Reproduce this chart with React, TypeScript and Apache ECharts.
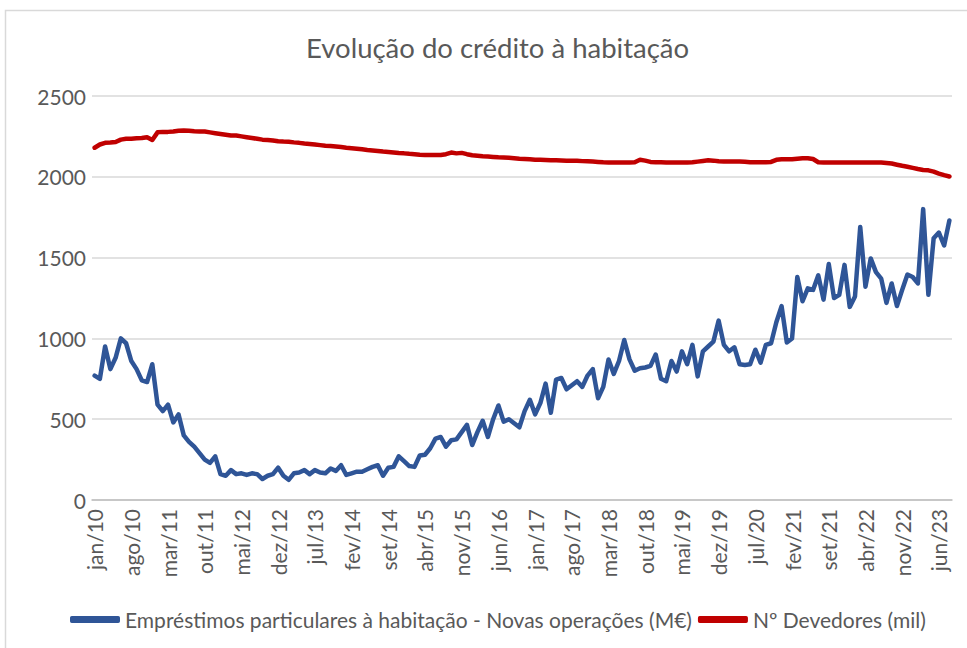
import React, { useEffect, useRef } from "react";
import * as echarts from "echarts";

const monthNames = ["jan", "fev", "mar", "abr", "mai", "jun", "jul", "ago", "set", "out", "nov", "dez"];
const years = [10, 11, 12, 13, 14, 15, 16, 17, 18, 19, 20, 21, 22, 23];
const categories: string[] = years
  .flatMap((y) => monthNames.map((m) => `${m}/${y}`))
  .slice(0, 164);

const yTicks = [0, 500, 1000, 1500, 2000, 2500];

// Empréstimos particulares à habitação - Novas operações (M€)
const novasOperacoes = [
  770, 750, 950, 810, 880, 1000, 970, 860, 810, 740, 730, 840,
  590, 550, 590, 480, 530, 400, 360, 330, 290, 250, 230, 270,
  160, 150, 185, 160, 165, 155, 165, 160, 130, 150, 160, 200,
  150, 125, 165, 170, 185, 160, 185, 170, 165, 195, 180, 215,
  155, 165, 175, 175, 190, 205, 215, 150, 200, 205, 270, 240,
  210, 205, 275, 280, 320, 380, 390, 330, 370, 375, 420, 465,
  340, 420, 490, 390, 500, 585, 485, 500, 475, 450, 550, 620,
  530, 600, 720, 540, 745, 755, 685, 710, 735, 700, 770, 810,
  630, 700, 870, 780, 860, 990, 870, 800, 815, 820, 830, 900,
  750, 735, 860, 795, 920, 840, 960, 765, 920, 950, 980, 1110,
  960, 920, 945, 840, 835, 840, 930, 850, 960, 970, 1100, 1200,
  975, 1000, 1380, 1230, 1310, 1300, 1390, 1240, 1460, 1250, 1270, 1455,
  1195, 1260, 1690, 1320, 1495, 1410, 1370, 1220, 1340, 1200, 1300, 1395,
  1380, 1340, 1800, 1270, 1620, 1655, 1575, 1730,
];

// Nº Devedores (mil)
const devedores = [
  2180, 2200, 2210, 2212, 2215, 2230, 2235, 2235, 2238, 2240, 2245, 2228,
  2275, 2278, 2278, 2280, 2285, 2287, 2285, 2282, 2280, 2280, 2275, 2270,
  2265, 2260, 2255, 2255, 2250, 2245, 2240, 2235, 2230, 2228, 2225, 2220,
  2218, 2217, 2213, 2210, 2206, 2203, 2200, 2196, 2192, 2190, 2187, 2184,
  2180, 2177, 2174, 2170, 2166, 2163, 2160, 2156, 2153, 2150, 2147, 2145,
  2142, 2140, 2137, 2135, 2135, 2135, 2135, 2140, 2150, 2145, 2148, 2140,
  2133, 2130, 2127, 2125, 2123, 2121, 2120, 2118, 2115, 2112, 2110, 2108,
  2106, 2105, 2104, 2103, 2102, 2101, 2100, 2100, 2099, 2097, 2096, 2094,
  2092, 2090, 2089, 2088, 2088, 2088, 2088, 2090, 2105, 2100, 2092, 2090,
  2090, 2089, 2089, 2088, 2088, 2088, 2090, 2094, 2098, 2102, 2100, 2096,
  2095, 2095, 2095, 2094, 2093, 2090, 2090, 2090, 2090, 2092, 2105, 2108,
  2108, 2108, 2112, 2115, 2115, 2110, 2090, 2089, 2089, 2089, 2088, 2088,
  2088, 2088, 2088, 2088, 2088, 2088, 2088, 2085, 2082, 2075, 2068, 2062,
  2055, 2048, 2042, 2040, 2032, 2020, 2010, 2002,
];

const FONT = "Lato, 'Open Sans', sans-serif";
const TEXT = "#595959";

export default function App() {
  const ref = useRef<HTMLDivElement>(null);

  useEffect(() => {
    if (!ref.current) return;
    const chart = echarts.init(ref.current, undefined, { renderer: "svg" });
    chart.setOption({
      animation: false,
      backgroundColor: "#ffffff",
      title: {
        text: "Evolução do crédito à habitação",
        left: 301,
        top: 28,
        textStyle: { fontFamily: FONT, fontSize: 27.5, fontWeight: "normal", color: TEXT },
      },
      graphic: [
        {
          type: "rect",
          shape: { x: 5.5, y: 10.5, width: 1000, height: 700 },
          style: { fill: "none", stroke: "#D9D9D9", lineWidth: 1.5 },
          silent: true,
        },
      ],
      grid: { left: 92, right: 15, top: 96, bottom: 148 },
      legend: {
        bottom: 18,
        left: 70,
        padding: 0,
        itemWidth: 50,
        itemHeight: 7,
        itemGap: 6,
        icon: "roundRect",
        textStyle: { fontFamily: FONT, fontSize: 21, color: TEXT },
        data: [
          "Empréstimos particulares à habitação - Novas operações (M€)",
          "Nº Devedores (mil)",
        ],
      },
      xAxis: {
        type: "category",
        data: categories,
        boundaryGap: true,
        axisLine: { lineStyle: { color: "#BFBFBF", width: 1.5 } },
        axisTick: { interval: 6, length: 7, lineStyle: { color: "#BFBFBF", width: 1.5 } },
        axisLabel: {
          interval: 6,
          rotate: 90,
          margin: 9,
          fontFamily: FONT,
          fontSize: 21,
          color: TEXT,
        },
      },
      yAxis: {
        type: "value",
        min: yTicks[0],
        max: yTicks[yTicks.length - 1],
        interval: 500,
        axisLine: { show: false },
        axisTick: { show: false },
        axisLabel: {
          margin: 6,
          fontFamily: FONT,
          fontSize: 21,
          color: TEXT,
          formatter: (v: number) => String(v),
        },
        splitLine: { lineStyle: { color: "#D9D9D9", width: 1.5 } },
      },
      series: [
        {
          name: "Empréstimos particulares à habitação - Novas operações (M€)",
          type: "line",
          data: novasOperacoes,
          showSymbol: false,
          symbol: "none",
          lineStyle: { color: "#2F5597", width: 4.5, cap: "round", join: "round" },
          itemStyle: { color: "#2F5597" },
        },
        {
          name: "Nº Devedores (mil)",
          type: "line",
          data: devedores,
          showSymbol: false,
          symbol: "none",
          lineStyle: { color: "#C00000", width: 4.5, cap: "round", join: "round" },
          itemStyle: { color: "#C00000" },
        },
      ],
    });
    return () => chart.dispose();
  }, []);

  return (
    <div
      ref={ref}
      style={{ position: "fixed", left: 0, top: 0, width: 967, height: 648, background: "#fff" }}
    />
  );
}
